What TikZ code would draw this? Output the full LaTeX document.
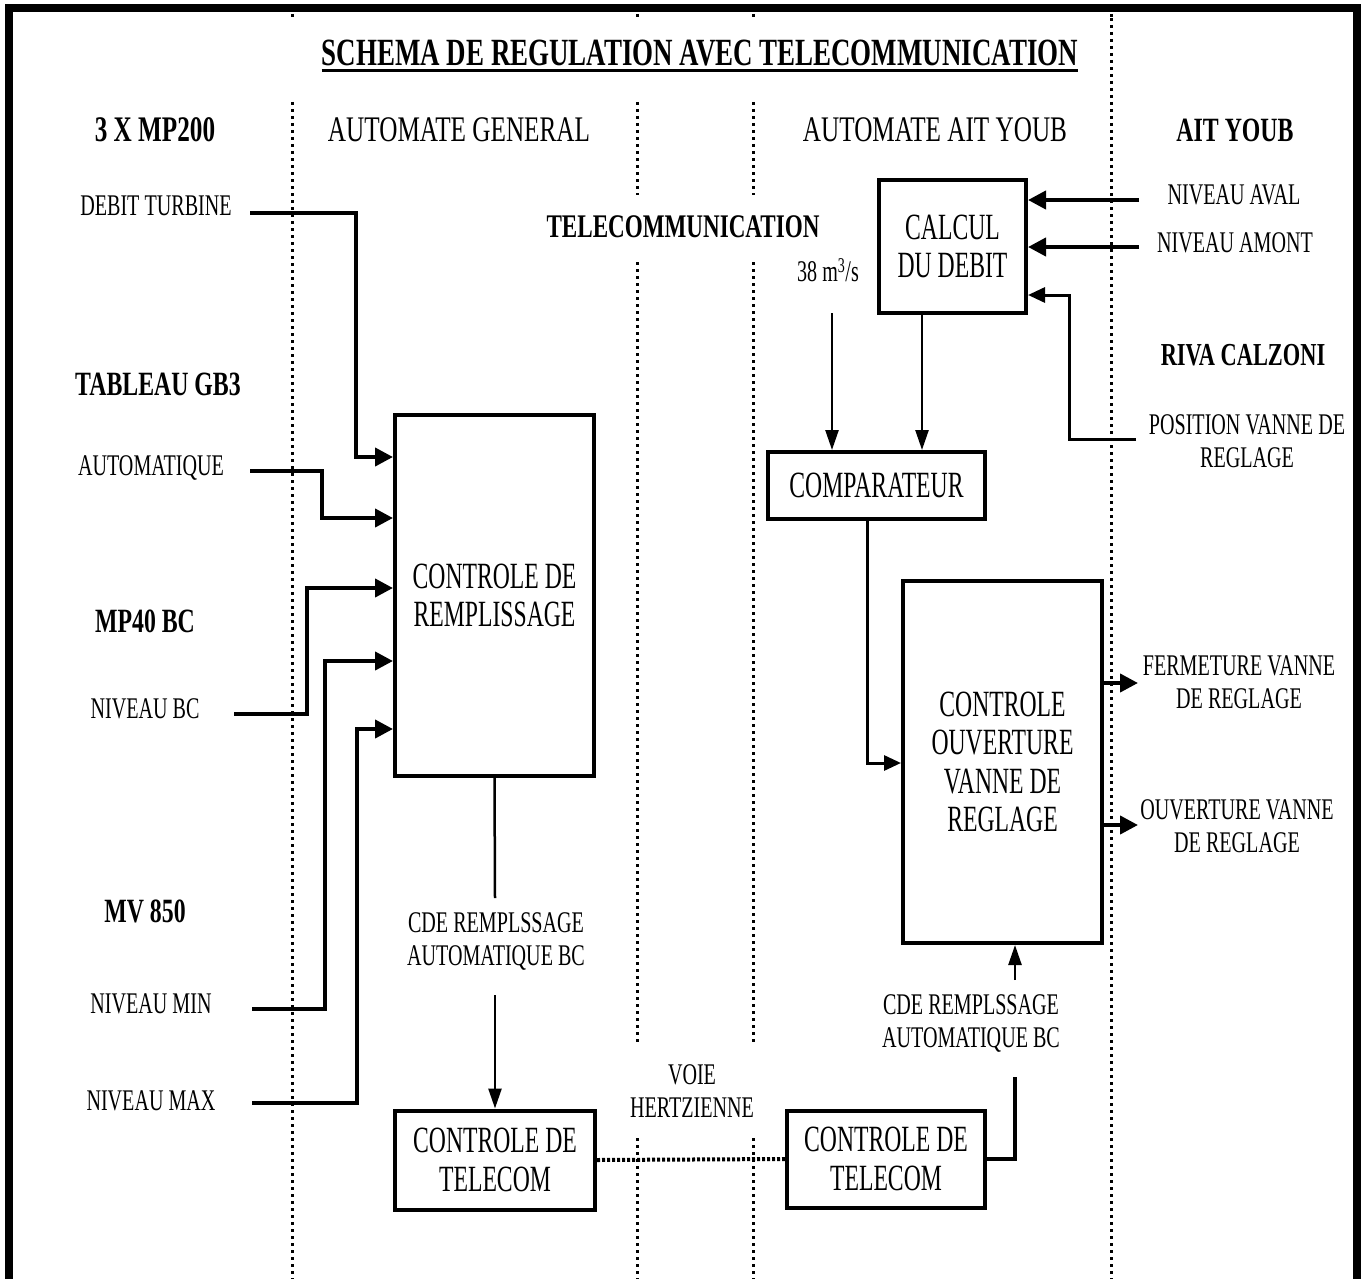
\documentclass[tikz,border=0pt]{standalone}
\usepackage{fontspec}
\setmainfont{Liberation Serif}[FakeStretch=0.70]
\newfontfamily\narfont{Liberation Serif}[FakeStretch=0.64]
\newfontfamily\lblfont{Liberation Serif}[FakeStretch=0.67]
\usetikzlibrary{arrows.meta}
\begin{document}
\begin{tikzpicture}[x=1pt,y=-1pt,
  lbl/.style={inner sep=0pt, align=center, font=\lblfont\fontsize{30}{33}\selectfont},
  hdr/.style={inner sep=0pt, font=\fontsize{36}{40}\selectfont},
  bhdr/.style={inner sep=0pt, font=\bfseries\fontsize{34}{38}\selectfont},
  blk/.style={draw, line width=4pt, inner sep=0pt, align=center, font=\narfont\fontsize{37}{38.5}\selectfont},
  sep/.style={line width=3pt, dash pattern=on 3pt off 4pt},
  wire/.style={line width=4pt},
  twire/.style={line width=2.5pt},
  arr/.style={line width=4pt, -{Triangle[length=18pt,width=18pt]}},
  marr/.style={line width=3pt, -{Triangle[length=17pt,width=15pt]}},
  tarr/.style={line width=2.5pt, -{Triangle[length=20pt,width=13pt]}},
]
\useasboundingbox (0,0) rectangle (1365,1279);
\fill[white] (0,0) rectangle (1365,1279);
% frame
\draw[line width=8pt, line join=miter] (8.5,1285) -- (8.5,8) -- (1357,8) -- (1357,1285);

% column separators
\foreach \x in {292,637,753,1111} \draw[sep] (\x,14) -- (\x,18);
\draw[sep] (292,102) -- (292,1279);
\foreach \x in {637,753} {
  \draw[sep] (\x,102) -- (\x,195);
  \draw[sep] (\x,262) -- (\x,1043);
  \draw[sep] (\x,1138) -- (\x,1279);
}
\draw[sep] (1111,18) -- (1111,1279);

% title
\node[inner sep=0pt, font=\bfseries\fontsize{38.5}{40}\selectfont] (title) at (700,53) {SCHEMA DE REGULATION AVEC TELECOMMUNICATION};
\draw[line width=2.5pt] ([yshift=-5pt]title.base west) -- ([yshift=-5pt]title.base east);

% headers
\node[bhdr, font=\bfseries\fontsize{36}{40}\selectfont] (h1) at (155,130) {3 X MP200};
\node[hdr] (h2) at (459,130) {AUTOMATE GENERAL};
\node[hdr] (h3) at (935,130) {AUTOMATE AIT YOUB};
\node[bhdr] (h4) at (1235,130) {AIT YOUB};
\node[bhdr, font=\bfseries\fontsize{33}{38}\selectfont] (h5) at (683,227) {TELECOMMUNICATION};

% left labels
\node[lbl] (ldt) at (156,206) {DEBIT TURBINE};
\node[bhdr] (ltab) at (158,384) {TABLEAU GB3};
\node[lbl] (lauto) at (151,468) {AUTOMATIQUE};
\node[bhdr] (lmp) at (145,621) {MP40 BC};
\node[lbl] (lnbc) at (145,709) {NIVEAU BC};
\node[bhdr] (lmv) at (145,911) {MV 850};
\node[lbl] (lmin) at (151,1004) {NIVEAU MIN};
\node[lbl] (lmax) at (151,1101) {NIVEAU MAX};

% right labels
\node[lbl] (laval) at (1234,195) {NIVEAU AVAL};
\node[lbl] (lamont) at (1235,243) {NIVEAU AMONT};
\node[bhdr, font=\bfseries\fontsize{32}{36}\selectfont] (lriva) at (1243,355) {RIVA CALZONI};
\node[lbl] (lpos) at (1247,441) {POSITION VANNE DE\\REGLAGE};
\node[lbl] (lferm) at (1239,682) {FERMETURE VANNE\\DE REGLAGE};
\node[lbl] (louv) at (1237,826) {OUVERTURE VANNE\\DE REGLAGE};
\node[lbl] (l38) at (828,270) {38 m\textsuperscript{3}/s};

% middle labels
\node[lbl] (cde1) at (496,941) {CDE REMPLSSAGE\\AUTOMATIQUE BC};
\node[lbl] (cde2) at (971,1023) {CDE REMPLSSAGE\\AUTOMATIQUE BC};
\node[lbl] (voie) at (692,1091) {VOIE\\HERTZIENNE};

% blocks
\node[blk, minimum width=199pt, minimum height=361pt] (cr) at (494.5,595.5) {CONTROLE DE\\REMPLISSAGE};
\node[blk, minimum width=200pt, minimum height=99pt] (tl) at (495,1160) {CONTROLE DE\\TELECOM};
\node[blk, minimum width=198pt, minimum height=97pt] (tr) at (886,1159) {CONTROLE DE\\TELECOM};
\node[blk, minimum width=147pt, minimum height=133pt] (cal) at (952.5,246.5) {CALCUL\\DU DEBIT};
\node[blk, minimum width=217pt, minimum height=67pt] (cmp) at (876.5,485.5) {COMPARATEUR};
\node[blk, minimum width=199pt, minimum height=362pt] (cov) at (1002.5,762) {CONTROLE\\OUVERTURE\\VANNE DE\\REGLAGE};

% left inputs
\coordinate (s1) at (250,213);  \coordinate (k1) at (356,457);
\coordinate (s2) at (250,471);  \coordinate (k2) at (322,518);
\coordinate (s3) at (234,714);  \coordinate (k3) at (307,588);
\coordinate (s4) at (252,1009); \coordinate (k4) at (325,661);
\coordinate (s5) at (252,1103); \coordinate (k5) at (357,729);
\foreach \i in {1,...,5} \draw[arr, line join=miter] (s\i) -| (k\i) -- (k\i -| cr.west);

% left vertical chain
\coordinate (c1) at (495,898);
\coordinate (c2) at (495,995);
\draw[twire] (cr.south) -- (c1);
\draw[tarr] (c2) -- (tl.north);

% radio link
\draw[line width=4pt, dash pattern=on 3pt off 2pt] (tl.east) -- (tr.west);

% right telecom to cov
\coordinate (c3) at (1015,1077);
\coordinate (c4) at (1015,980);
\draw[line width=3.5pt, line join=miter] (tr.east) -| (c3);
\draw[tarr] (c4) -- (c4 |- cov.south);

% comparateur to cov
\coordinate (c5) at (867,763);
\draw[marr, line join=miter] (c5 |- cmp.south) -- (c5) -- (c5 -| cov.west);

% calcul to comparateur, 38 m3/s
\coordinate (c6) at (922,400);
\coordinate (c7) at (832,313);
\draw[tarr] (c6 |- cal.south) -- (c6 |- cmp.north);
\draw[tarr] (c7) -- (c7 |- cmp.north);

% right inputs
\coordinate (c8) at (1139,200);
\coordinate (c9) at (1139,247);
\draw[arr] (c8) -- (c8 -| cal.east);
\draw[arr] (c9) -- (c9 -| cal.east);
\coordinate (c10) at (1136,439);
\coordinate (c11) at (1069,295);
\draw[marr, line join=miter] (c10) -| (c11) -- (c11 -| cal.east);

% outputs
\coordinate (c12) at (1138,683);
\coordinate (c13) at (1138,825);
\draw[arr] (c12 -| cov.east) -- (c12);
\draw[arr] (c13 -| cov.east) -- (c13);
\end{tikzpicture}
\end{document}
